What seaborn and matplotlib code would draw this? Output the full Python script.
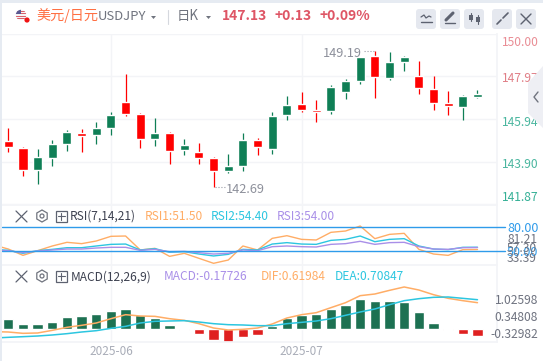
import numpy as np
import pandas as pd
import matplotlib
matplotlib.use('Agg')
import matplotlib.pyplot as plt
from matplotlib.patches import FancyBboxPatch, Circle, Polygon, Rectangle, RegularPolygon
import seaborn as sns

# candles, oldest first
opens = [144.89, 144.56, 143.51, 144.08, 144.75, 145.27, 145.17, 145.51, 146.75, 146.18, 144.98,
         145.27, 144.46, 144.37, 144.08, 143.46, 143.70, 144.94, 144.51, 146.13, 146.65, 146.36,
         146.32, 147.22, 147.75, 148.94, 147.89, 148.65, 147.98, 147.37, 146.70, 146.51, 146.98]
closes = [144.60, 143.51, 144.13, 144.75, 145.32, 145.13, 145.51, 146.13, 146.18, 144.98, 145.27,
          144.41, 144.70, 144.08, 143.46, 143.70, 144.94, 144.60, 146.08, 146.60, 146.36, 146.27,
          147.46, 147.75, 148.89, 147.94, 148.65, 148.89, 147.41, 146.70, 146.55, 147.03, 147.13]
highs = [145.52, 144.60, 144.51, 144.94, 145.41, 145.46, 145.79, 146.27, 148.08, 146.22, 145.98,
         145.32, 144.98, 144.79, 144.13, 144.27, 145.27, 145.03, 146.27, 147.03, 147.22, 146.84,
         147.56, 147.84, 148.89, 149.19, 149.13, 148.94, 148.70, 147.98, 147.27, 147.08, 147.32]
lows = [144.37, 143.22, 142.84, 143.70, 144.41, 144.37, 144.75, 145.17, 146.05, 144.56, 144.65,
        143.79, 144.22, 143.79, 142.69, 143.37, 143.46, 144.22, 144.27, 145.88, 146.27, 145.81,
        146.18, 146.89, 147.60, 146.94, 147.79, 148.22, 147.13, 146.36, 146.13, 145.88, 146.93]

# indicators start one session before the first visible candle
rsi1 = [57.3, 52.1, 44.0, 50.0, 56.0, 60.7, 59.0, 62.4, 68.4, 68.8, 50.9, 53.0, 42.7, 46.6, 40.2, 33.8, 38.0,
        56.0, 50.9, 65.8, 69.2, 64.5, 63.7, 73.5, 75.2, 81.6, 65.4, 70.9, 72.2, 51.7, 45.7, 44.0, 51.3, 51.5]
rsi2 = [51.7, 50.4, 46.6, 50.0, 51.7, 53.8, 53.8, 56.0, 58.1, 58.5, 50.9, 52.6, 47.9, 48.7, 45.7, 43.2, 45.3,
        51.7, 50.9, 58.5, 60.3, 58.5, 58.1, 63.2, 64.5, 68.8, 61.5, 64.5, 65.4, 56.0, 52.1, 51.3, 54.3, 54.4]
rsi3 = [50.9, 50.0, 47.4, 49.6, 50.9, 52.1, 52.1, 53.4, 54.3, 54.3, 50.4, 51.7, 48.7, 49.1, 47.4, 45.7, 46.6,
        50.9, 50.0, 55.1, 56.0, 55.1, 54.7, 58.1, 59.0, 62.0, 58.1, 60.3, 60.7, 55.1, 52.1, 51.7, 53.8, 54.0]
macd_hist = [0.265, 0.133, 0.133, 0.186, 0.319, 0.345, 0.398, 0.478, 0.531, 0.372, 0.292, 0.106, -0.02,
             -0.133, -0.292, -0.345, -0.212, -0.159, 0.08, 0.292, 0.372, 0.398, 0.531, 0.637, 0.796,
             0.743, 0.743, 0.717, 0.451, 0.159, -0.035, -0.124, -0.177]
dif = [-0.235, -0.245, -0.284, -0.274, -0.196, -0.107, -0.048, 0.021, 0.148, 0.266, 0.227, 0.217, 0.148,
       0.099, 0.001, -0.127, -0.186, -0.166, -0.127, -0.009, 0.168, 0.266, 0.325, 0.473, 0.620, 0.827,
       0.876, 0.984, 1.083, 0.994, 0.856, 0.748, 0.679, 0.620]
dea = [-0.422, -0.402, -0.383, -0.363, -0.333, -0.294, -0.245, -0.206, -0.137, -0.078, 0.021, 0.070, 0.080,
       0.089, 0.050, 0.001, -0.029, -0.038, -0.058, -0.058, 0.001, 0.040, 0.080, 0.148, 0.247, 0.345, 0.434,
       0.561, 0.679, 0.738, 0.778, 0.788, 0.748, 0.708]

price_ticks = [150.00, 147.97, 145.94, 143.90, 141.87]
price_tick_colors = ['#e98d95', '#e07f87', '#4ab69f', '#4ab69f', '#35b096']
# the app nudges the labels off their gridlines (points, down is negative)
price_tick_nudge = [-6.5, -1.5, -2.5, -2.2, 5.2]
rsi_lines = [80, 50]
rsi_ticks = [81.21, 57.30, 33.39]
macd_ticks = [1.02598, 0.34808, -0.32982]
date_pos = [7, 20]
date_labels = ['2025-06', '2025-07']

GREEN = '#0f7f56'
RED = '#ff0000'
ORANGE = '#ffad66'
CYAN = '#2cc6e0'
PURPLE = '#a98fe8'
BLUE = '#2f9bea'
GRID = '#f3f4f7'
W, H = 543, 361

sns.set_theme(style='white')
plt.rcParams['font.family'] = ['Noto Sans CJK SC', 'DejaVu Sans']

fig = plt.figure(figsize=(W / 100, H / 100), dpi=100)


def panel(y0, y1):
    # axes from pixel rows of the picture
    return fig.add_axes([2 / W, 1 - y1 / H, 495 / W, (y1 - y0) / H])


def lim(zero_y, scale, y0, y1):
    # value limits for a panel with zero_y px as the reference and scale px per unit
    return (zero_y - y1) / scale, (zero_y - y0) / scale


xl = (-0.43, 33.33)
x_all = np.arange(-1, 33)
x = np.arange(33)

# price panel
ax = panel(33.5, 204.3)
ax.set_xlim(*xl)
ax.set_ylim(141.87, 150.0)
ax.set_yticks(price_ticks)
ax.set_yticklabels([])
ax.set_xticks(date_pos)
ax.set_xticklabels([])
ax.grid(True, color=GRID, lw=1)
ax.set_axisbelow(True)
ax.tick_params(length=0)
for p, col, dy in zip(price_ticks, price_tick_colors, price_tick_nudge):
    ax.annotate('%.2f' % p, (1, p), xycoords=('axes fraction', 'data'), xytext=(3.4, dy),
                textcoords='offset points', color=col, fontsize=8.7, va='center', annotation_clip=False)
for s in ax.spines.values():
    s.set_visible(False)
ax.spines['right'].set_visible(True)
ax.spines['right'].set_color(GRID)
cols = [GREEN if c >= o else RED for o, c in zip(opens, closes)]
ax.vlines(x, lows, highs, colors=cols, lw=0.9, zorder=2)
bot = np.minimum(opens, closes)
ax.bar(x, np.abs(np.array(closes) - np.array(opens)), bottom=bot, width=0.62, color=cols, zorder=3)
ax.plot([24.92, 24.2], [149.19, 149.19], ls=':', color='#9a9ca6', lw=0.8)
ax.plot([14.08, 14.8], [142.69, 142.69], ls=':', color='#9a9ca6', lw=0.8)
ax.text(24.13, 149.06, '149.19', ha='right', va='center', color='#8d909b', fontsize=9.2)
ax.text(14.85, 142.58, '142.69', ha='left', va='center', color='#8d909b', fontsize=9.2)

# RSI panel
ax_r = panel(205, 265)
rsi_df = pd.DataFrame({'i': x_all, 'RSI1': rsi1, 'RSI2': rsi2, 'RSI3': rsi3})
sns.lineplot(data=rsi_df, x='i', y='RSI1', color=ORANGE, lw=1, ax=ax_r)
sns.lineplot(data=rsi_df, x='i', y='RSI2', color=CYAN, lw=1, ax=ax_r)
sns.lineplot(data=rsi_df, x='i', y='RSI3', color=PURPLE, lw=1, ax=ax_r)
for v in rsi_lines:
    ax_r.axhline(v, xmin=0, xmax=1.016, color=BLUE, lw=1, clip_on=False, zorder=4)
ax_r.set_xlim(*xl)
ax_r.set_ylim(50 + (250.67 - 265) / 0.78, 50 + (250.67 - 205) / 0.78)
ax_r.set_xticks(date_pos)
ax_r.set_xticklabels([])
ax_r.grid(True, axis='x', color=GRID, lw=1)
ax_r.set_axisbelow(True)
ax_r.set_xlabel('')
ax_r.set_ylabel('')
for s in ax_r.spines.values():
    s.set_visible(False)
ax_r.spines['right'].set_visible(True)
ax_r.spines['right'].set_color(GRID)
ax_r.spines['top'].set_visible(True)
ax_r.spines['top'].set_color(GRID)
ax_r2 = ax_r.twinx()
ax_r2.set_ylim(33.39 - (265 - 256.7) / 0.385, 81.21 + (238.3 - 205) / 0.385)
ax_r2.set_yticks(rsi_ticks)
ax_r2.set_yticklabels(['%.2f' % v for v in rsi_ticks], color='#6f7380', fontsize=8.7)
ax_r2.tick_params(length=0, pad=7.2)
ax_r2.grid(False)
for s in ax_r2.spines.values():
    s.set_visible(False)
# twinx moves the original ticks to the left, so put them back
ax_r.yaxis.tick_right()
ax_r.set_yticks(rsi_lines)
ax_r.set_yticklabels(['%.2f' % v for v in rsi_lines], color=BLUE, fontsize=9)
ax_r.tick_params(axis='y', length=0, pad=7.2)

# MACD panel: bars and lines have separate scales in the original
ax_m = panel(265, 342)
hist_df = pd.DataFrame({'i': x, 'hist': macd_hist, 'sign': ['up' if v >= 0 else 'down' for v in macd_hist]})
sns.barplot(data=hist_df, x='i', y='hist', hue='sign', palette={'up': GREEN, 'down': RED},
            native_scale=True, dodge=False, width=0.7, legend=False, ax=ax_m, zorder=2)
ax_m.set_xlim(*xl)
ax_m.set_ylim(*lim(329, 37.7, 265, 342))
ax_m.set_xticks(date_pos)
ax_m.set_xticklabels(date_labels, color='#a9adb8', fontsize=8.5)
ax_m.tick_params(axis='x', length=0, pad=2)
ax_m.set_yticks([])
ax_m.grid(True, axis='x', color=GRID, lw=1)
ax_m.set_axisbelow(True)
ax_m.set_xlabel('')
ax_m.set_ylabel('')
for s in ax_m.spines.values():
    s.set_color(GRID)
ax_m.spines['left'].set_visible(False)

ax_l = ax_m.twinx()
line_df = pd.DataFrame({'i': x_all, 'DIF': dif, 'DEA': dea})
sns.lineplot(data=line_df, x='i', y='DIF', color=ORANGE, lw=1.1, ax=ax_l)
sns.lineplot(data=line_df, x='i', y='DEA', color=CYAN, lw=1.1, ax=ax_l)
ax_l.set_xlim(*xl)
ax_l.set_ylim(*lim(323.7, 33.9, 265, 342))
ax_l.set_yticks([])
ax_l.set_xlabel('')
ax_l.set_ylabel('')
ax_l.grid(False)
for s in ax_l.spines.values():
    s.set_visible(False)

ax_t = ax_m.twinx()
ax_t.set_ylim(*lim(324.9, 25.5, 265, 342))
ax_t.set_yticks(macd_ticks)
ax_t.set_yticklabels(['%.5f' % v for v in macd_ticks], color='#6f7380', fontsize=8.7, ha='right')
ax_t.tick_params(length=0, pad=29.5)
ax_t.grid(False)
for s in ax_t.spines.values():
    s.set_visible(False)

# page furniture, in picture pixels
px = fig.add_axes([0, 0, 1, 1], zorder=10)
px.set_xlim(0, W)
px.set_ylim(H, 0)
px.axis('off')
px.patch.set_alpha(0)
px.add_patch(Rectangle((0, 0), 2, H, color='#e6ebf2', lw=0))
px.add_patch(Rectangle((0, 0), W, 3, color='#e6ebf2', lw=0))

# flag
flag = Circle((21, 15), 5.2, fc='#f4f4f6', ec='none')
px.add_patch(flag)
for sy in [10.5, 13, 15.5, 18]:
    st = Rectangle((15, sy), 12, 1.3, fc='#d9606a', ec='none')
    px.add_patch(st)
    st.set_clip_path(flag)
cant = Rectangle((15, 9), 6, 5, fc='#5a5a92', ec='none')
px.add_patch(cant)
cant.set_clip_path(flag)
px.add_patch(Circle((27, 20), 2.6, color='#f01414', lw=0))

px.text(36, 16, '美元/日元', color='#ff7043', fontsize=10.2, va='center')
px.text(98, 17, 'USDJPY', color='#70747f', fontsize=9.4, va='center')
px.add_patch(Polygon([[151, 16], [156, 16], [153.5, 19]], color='#70747f', lw=0))
px.plot([167.5, 167.5], [10, 24], color='#d5d8de', lw=0.8)
px.text(177, 16, '日K', color='#70747f', fontsize=9.6, va='center')
px.add_patch(Polygon([[206, 16], [211, 16], [208.5, 19]], color='#70747f', lw=0))
px.text(222, 16, '147.13', color='#de5565', fontsize=10, fontweight='bold', va='center')
px.text(274.5, 16, '+0.13', color='#de5565', fontsize=10, fontweight='bold', va='center')
px.text(320, 16, '+0.09%', color='#de5565', fontsize=10, fontweight='bold', va='center')

for bx in [416, 440, 464, 492, 516]:
    px.add_patch(FancyBboxPatch((bx + 1.5, 10.5), 17, 17, boxstyle='round,pad=1.5,rounding_size=3',
                                fc='#e5e8ef', ec='none'))
ic = '#5d6270'
px.plot([421, 424, 426, 429, 431], [17, 15, 18, 16, 17], color=ic, lw=0.9)
px.plot([421, 432], [21.5, 21.5], color=ic, lw=1)
px.plot([446, 453], [20, 13], color=ic, lw=2.2)
px.plot([445, 455], [23, 23], color=ic, lw=1)
px.plot([471, 471], [13, 21], color=ic, lw=0.8)
px.add_patch(Rectangle((469, 15), 4, 5, color=ic, lw=0))
px.plot([478, 478], [15, 24], color=ic, lw=0.8)
px.add_patch(Rectangle((476, 17), 4, 5, color=ic, lw=0))
px.plot([497, 501], [24, 20], color=ic, lw=1.2)
px.plot([503, 508], [18, 13], color=ic, lw=1.2)
px.plot([521, 531], [14, 24], color=ic, lw=1)
px.plot([521, 531], [24, 14], color=ic, lw=1)

# collapsed side tab
px.add_patch(Polygon([[543, 66], [528, 83], [528, 113], [543, 128]], color='#eeeff4', lw=0))
px.plot([538, 534, 538], [92, 97, 102], color='#70747f', lw=1)


def row(y):
    px.plot([16, 27], [y - 5, y + 6], color='#5d6270', lw=0.9)
    px.plot([16, 27], [y + 6, y - 5], color='#5d6270', lw=0.9)
    px.add_patch(RegularPolygon((42, y), 6, radius=6, fc='none', ec='#70747f', lw=0.9))
    px.add_patch(Circle((42, y), 2, fc='none', ec='#70747f', lw=0.9))
    px.add_patch(Rectangle((56, y - 5.5), 10.5, 11, fc='none', ec='#5d6270', lw=0.9))
    px.plot([58, 64.5], [y, y], color='#5d6270', lw=0.8)
    px.plot([61.2, 61.2], [y - 3.5, y + 3.5], color='#5d6270', lw=0.8)


row(216)
row(276)
for tx, ty, s, c in [(70, 216, 'RSI(7,14,21)', '#3d4150'), (145, 216, 'RSI1:51.50', ORANGE),
                     (211, 216, 'RSI2:54.40', CYAN), (277, 216, 'RSI3:54.00', PURPLE),
                     (71, 277, 'MACD(12,26,9)', '#3d4150'), (164, 277, 'MACD:-0.17726', PURPLE),
                     (261, 277, 'DIF:0.61984', ORANGE), (335, 277, 'DEA:0.70847', CYAN)]:
    px.text(tx, ty, s, color=c, fontsize=8.6, va='center')

fig.savefig('out.png', dpi=100)
